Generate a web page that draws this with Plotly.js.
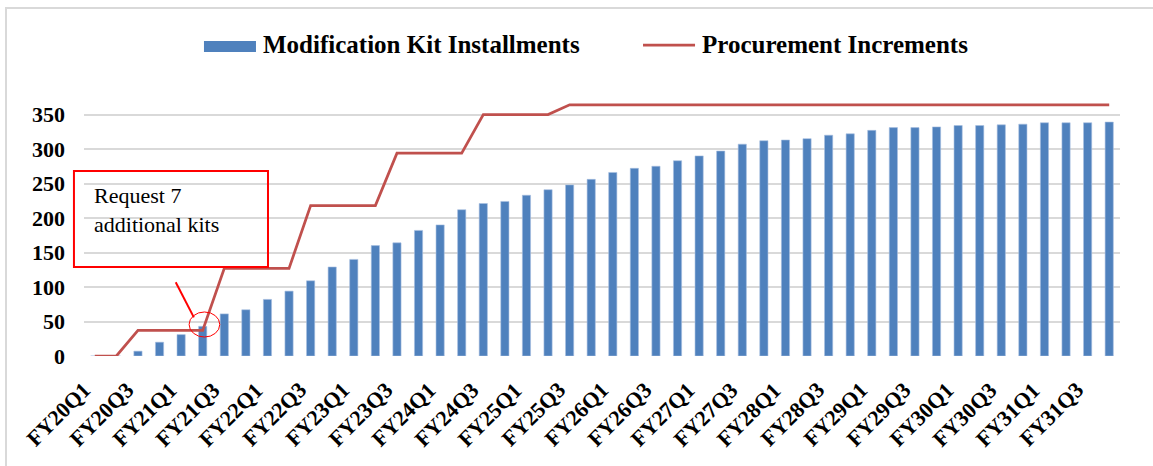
<!DOCTYPE html>
<html>
<head>
<meta charset="utf-8">
<script src="https://cdn.plot.ly/plotly-3.0.1.min.js"></script>
<style>
  html, body { margin: 0; padding: 0; background: #ffffff; }
  #chart { width: 1153px; height: 466px; }
</style>
</head>
<body>
<div id="chart"></div>
<script>
// Fiscal quarters, FY20Q1 through FY31Q4
const quarters = [
  "FY20Q1","FY20Q2","FY20Q3","FY20Q4",
  "FY21Q1","FY21Q2","FY21Q3","FY21Q4",
  "FY22Q1","FY22Q2","FY22Q3","FY22Q4",
  "FY23Q1","FY23Q2","FY23Q3","FY23Q4",
  "FY24Q1","FY24Q2","FY24Q3","FY24Q4",
  "FY25Q1","FY25Q2","FY25Q3","FY25Q4",
  "FY26Q1","FY26Q2","FY26Q3","FY26Q4",
  "FY27Q1","FY27Q2","FY27Q3","FY27Q4",
  "FY28Q1","FY28Q2","FY28Q3","FY28Q4",
  "FY29Q1","FY29Q2","FY29Q3","FY29Q4",
  "FY30Q1","FY30Q2","FY30Q3","FY30Q4",
  "FY31Q1","FY31Q2","FY31Q3","FY31Q4"
];

// Cumulative modification kits installed
const kitInstallments = [
  0, 0, 7, 20, 31, 43, 61, 67,
  82, 94, 109, 129, 140, 160, 164, 182,
  190, 212, 221, 224, 233, 241, 248, 256,
  266, 272, 275, 283, 290, 297, 307, 312,
  313, 315, 320, 322, 327, 331, 331, 332,
  334, 334, 335, 336, 338, 338, 338, 339
];

// Cumulative kits procured
const procurementIncrements = [
  0, 0, 37, 37, 37, 37, 127, 127,
  127, 127, 218, 218, 218, 218, 294, 294,
  294, 294, 350, 350, 350, 350, 364, 364,
  364, 364, 364, 364, 364, 364, 364, 364,
  364, 364, 364, 364, 364, 364, 364, 364,
  364, 364, 364, 364, 364, 364, 364, 364
];

// Every other quarter is labelled on the axis
const tickQuarters = [
  "FY20Q1","FY20Q3","FY21Q1","FY21Q3","FY22Q1","FY22Q3",
  "FY23Q1","FY23Q3","FY24Q1","FY24Q3","FY25Q1","FY25Q3",
  "FY26Q1","FY26Q3","FY27Q1","FY27Q3","FY28Q1","FY28Q3",
  "FY29Q1","FY29Q3","FY30Q1","FY30Q3","FY31Q1","FY31Q3"
];
const yTicks = [0, 50, 100, 150, 200, 250, 300, 350];

const seriesNames = ["Modification Kit Installments", "Procurement Increments"];
const noteText = "Request 7<br>additional kits";

const BLUE = "#4F81BD";
const RED_LINE = "#C0504D";
const GRID = "#D9D9D9";
const SERIF = "'Liberation Serif', 'Times New Roman', serif";

const traces = [
  {
    type: "bar",
    name: seriesNames[0],
    x: quarters,
    y: kitInstallments,
    width: 0.38,
    marker: { color: BLUE, line: { color: "#A7BFE0", width: 0.6 } },
    hoverinfo: "x+y",
    showlegend: false
  },
  {
    type: "scatter",
    mode: "lines",
    name: seriesNames[1],
    x: quarters,
    y: procurementIncrements,
    line: { color: RED_LINE, width: 2.75 },
    hoverinfo: "x+y",
    showlegend: false
  }
];

// Quarter labels along the bottom, slanted at 45 degrees
const quarterLabels = tickQuarters.map(q => ({
  xref: "x", yref: "paper", x: quarters.indexOf(q), y: 0,
  xanchor: "right", yanchor: "top", xshift: 3, yshift: -19,
  textangle: -45, showarrow: false,
  text: "<b>" + q + "</b>",
  font: { family: SERIF, size: 22, color: "#000000" }
}));

const layout = {
  width: 1153,
  height: 466,
  margin: { l: 84, r: 33, t: 80, b: 110 },
  paper_bgcolor: "#ffffff",
  plot_bgcolor: "#ffffff",
  font: { family: SERIF, color: "#000000" },
  bargap: 0.6,
  xaxis: {
    type: "category",
    categoryorder: "array",
    categoryarray: quarters,
    showticklabels: false,
    showgrid: false,
    zeroline: false,
    showline: false,
    ticks: "",
    range: [-0.5, 47.5]
  },
  yaxis: {
    range: [0, 400],
    tickmode: "array",
    tickvals: yTicks,
    tickfont: { family: SERIF, size: 22, color: "#000000", weight: "bold" },
    showgrid: true,
    gridcolor: GRID,
    gridwidth: 2,
    zeroline: false,
    showline: false,
    ticks: "",
    ticklabelstandoff: 18
  },
  shapes: [
    // outer chart frame
    {
      type: "rect", xref: "paper", yref: "paper", layer: "below",
      x0: -0.0753, x1: 1.2, y0: -1.0, y1: 1.2609,
      line: { color: GRID, width: 2 }, fillcolor: "rgba(0,0,0,0)"
    },
    // legend swatch: bars
    {
      type: "rect", xref: "paper", yref: "paper",
      x0: 0.1158, x1: 0.1660, y0: 1.1014, y1: 1.1413,
      line: { width: 0 }, fillcolor: BLUE
    },
    // legend swatch: line
    {
      type: "line", xref: "paper", yref: "paper",
      x0: 0.5396, x1: 0.5898, y0: 1.1268, y1: 1.1268,
      line: { color: RED_LINE, width: 2.75 }
    },
    // callout box
    {
      type: "rect", xref: "paper", yref: "paper",
      x0: -0.0097, x1: 0.1776, y0: 0.3225, y1: 0.6703,
      line: { color: "#FF0000", width: 2 }, fillcolor: "rgba(0,0,0,0)"
    },
    // callout pointer
    {
      type: "line", xref: "x", yref: "y",
      x0: 3.75, y0: 107, x1: 4.59, y1: 56,
      line: { color: "#FF0000", width: 2 }
    },
    // circle around FY21Q2
    {
      type: "circle", xref: "x", yref: "y",
      x0: 4.37, x1: 5.79, y0: 27.5, y1: 63.8,
      line: { color: "#FF0000", width: 1 }, fillcolor: "rgba(0,0,0,0)"
    }
  ],
  annotations: [
    {
      xref: "paper", yref: "paper", x: 0.1708, y: 1.1286,
      xanchor: "left", yanchor: "middle", showarrow: false,
      text: "<b>" + seriesNames[0] + "</b>",
      font: { family: SERIF, size: 25, color: "#000000" }
    },
    {
      xref: "paper", yref: "paper", x: 0.5946, y: 1.1286,
      xanchor: "left", yanchor: "middle", showarrow: false,
      text: "<b>" + seriesNames[1] + "</b>",
      font: { family: SERIF, size: 25, color: "#000000" }
    },
    {
      xref: "x", yref: "y", x: -0.12, y: 254,
      xanchor: "left", yanchor: "top", align: "left", showarrow: false,
      text: noteText,
      font: { family: SERIF, size: 22, color: "#000000" }
    }
  ].concat(quarterLabels)
};

Plotly.newPlot("chart", traces, layout, { staticPlot: true, displayModeBar: false });
</script>
</body>
</html>
